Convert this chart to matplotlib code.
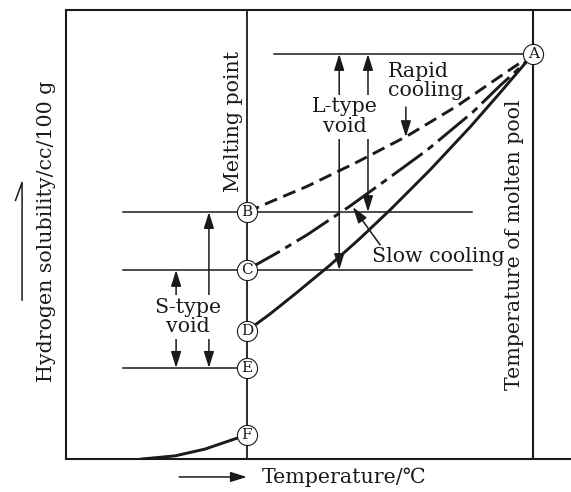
import matplotlib.pyplot as plt

plt.rcParams['font.family'] = ['DejaVu Serif']

# schematic values, temperature (x) and hydrogen solubility (y) on a 0-100 scale
melting_t = 35.8
pool_t = 92.5

point_names = ['A', 'B', 'C', 'D', 'E', 'F']
point_t = [92.5, 35.8, 35.8, 35.8, 35.8, 35.8]
point_s = [90.2, 55.0, 42.1, 28.5, 20.3, 5.3]

# horizontal guide lines through A, B, C, E
level_s = [90.2, 55.0, 42.1, 20.3]
level_t0 = [41.2, 11.3, 11.3, 11.3]
level_t1 = [92.5, 80.4, 80.4, 35.8]

# cooling paths from A
rapid_t = [35.8, 41.8, 47.7, 57.6, 67.5, 77.4, 84.0, 92.5]
rapid_s = [55.0, 57.9, 60.7, 66.1, 71.9, 78.6, 83.7, 90.2]
slow_t = [35.8, 41.8, 47.7, 56.2, 64.2, 71.5, 80.6, 85.9, 90.5, 92.5]
slow_s = [42.1, 45.9, 49.9, 56.3, 62.8, 68.8, 77.3, 83.1, 87.8, 90.2]
liquid_t = [35.8, 40.4, 45.3, 52.1, 58.0, 64.2, 72.1, 80.0, 85.9, 92.5]
liquid_s = [28.5, 32.3, 36.7, 43.0, 48.9, 55.5, 64.4, 73.9, 81.5, 90.2]
solid_t = [15.0, 21.6, 27.5, 33.5, 35.8]
solid_s = [0.0, 0.7, 2.2, 4.5, 5.3]

# void range arrows (x, top, bottom)
void_t = [54.1, 59.8, 21.8, 28.3]
void_top = [90.2, 90.2, 42.1, 55.0]
void_bottom = [42.1, 55.0, 20.3, 20.3]

# pointer arrows for the labels: (from, to)
rapid_ptr = [(67.3, 78.4), (67.3, 71.7)]
slow_ptr = [(62.2, 47.7), (56.8, 56.1)]

# axis direction arrows
x_arrow_t = [22.4, 35.8]
x_arrow_s = -4.0
y_arrow_t = [-8.7, -8.7, -10.0]
y_arrow_s = [35.4, 61.6, 57.6]

ink = '#1a1a1a'
head = '-|>,head_length=0.7,head_width=0.22'
head2 = '<|-|>,head_length=0.7,head_width=0.22'

fig = plt.figure(figsize=(5.71, 4.92), dpi=100)
ax = fig.add_axes([66 / 571, 33 / 492, 505 / 571, 449 / 492])
ax.set_xlim(0, 100)
ax.set_ylim(0, 100)
ax.set_xticks([])
ax.set_yticks([])
ax.spines['right'].set_visible(False)
for side in ['left', 'top', 'bottom']:
    ax.spines[side].set_linewidth(1.5)
    ax.spines[side].set_color(ink)

# vertical reference lines
ax.plot([melting_t, melting_t], [0, 100], color=ink, lw=1.3, zorder=1)
ax.plot([pool_t, pool_t], [0, 100], color=ink, lw=1.5, zorder=1)

for s, t0, t1 in zip(level_s, level_t0, level_t1):
    ax.plot([t0, t1], [s, s], color=ink, lw=1.1, zorder=1)

# curves
ax.plot(rapid_t, rapid_s, color=ink, lw=2.1, linestyle=(0, (4.5, 2.3)),
        dash_capstyle='butt', zorder=4)
ax.plot(slow_t, slow_s, color=ink, lw=2.1, linestyle=(0, (13, 2.2, 2.4, 2.2)),
        dash_capstyle='butt', zorder=4)
ax.plot(liquid_t, liquid_s, color=ink, lw=2.1, zorder=4)
ax.plot(solid_t, solid_s, color=ink, lw=2.1, zorder=4)

# void arrows
for t, top, bot in zip(void_t, void_top, void_bottom):
    ax.annotate('', xy=(t, bot), xytext=(t, top),
                arrowprops=dict(arrowstyle=head2, color=ink, lw=1.1,
                                shrinkA=0, shrinkB=0, mutation_scale=14),
                zorder=2)

for ptr in [rapid_ptr, slow_ptr]:
    ax.annotate('', xy=ptr[1], xytext=ptr[0],
                arrowprops=dict(arrowstyle=head, color=ink, lw=1.1,
                                shrinkA=0, shrinkB=0, mutation_scale=14),
                zorder=2)

# point markers
ax.plot(point_t, point_s, 'o', ms=14.5, mfc='white', mec=ink, mew=0.8,
        zorder=5, clip_on=False)
for name, t, s in zip(point_names, point_t, point_s):
    ax.text(t, s, name, ha='center', va='center', fontsize=11,
            color=ink, zorder=6)

fs = 14.8
box = dict(facecolor='white', edgecolor='none', pad=2)
ax.text(55.2, 76.2, 'L-type\nvoid', ha='center', va='center', fontsize=fs,
        linespacing=1.05, color=ink, bbox=box, zorder=3)
ax.text(24.2, 31.6, 'S-type\nvoid', ha='center', va='center', fontsize=fs,
        linespacing=1.05, color=ink, bbox=box, zorder=3)
ax.text(63.8, 84.2, 'Rapid\ncooling', ha='left', va='center', fontsize=fs,
        linespacing=1.05, color=ink, zorder=3)
ax.text(73.7, 45.2, 'Slow cooling', ha='center', va='center', fontsize=fs,
        color=ink, zorder=3)
ax.text(33.1, 75.1, 'Melting point', ha='center', va='center', rotation=90,
        fontsize=fs, color=ink, zorder=3)
ax.text(88.9, 47.7, 'Temperature of molten pool', ha='center', va='center',
        rotation=90, fontsize=fs, color=ink, zorder=3)

# axis labels with direction arrows
ax.text(-3.8, 50.8, 'Hydrogen solubility/cc/100 g', ha='center', va='center',
        rotation=90, fontsize=fs, color=ink, clip_on=False)
ax.text(38.8, x_arrow_s, 'Temperature/℃', ha='left', va='center',
        fontsize=fs, color=ink, clip_on=False)
ax.annotate('', xy=(x_arrow_t[1], x_arrow_s), xytext=(x_arrow_t[0], x_arrow_s),
            arrowprops=dict(arrowstyle=head, color=ink, lw=1.1,
                            shrinkA=0, shrinkB=0, mutation_scale=14),
            annotation_clip=False)
ax.plot(y_arrow_t, y_arrow_s, color=ink, lw=1.1, clip_on=False)

fig.savefig('out.png', dpi=100)
